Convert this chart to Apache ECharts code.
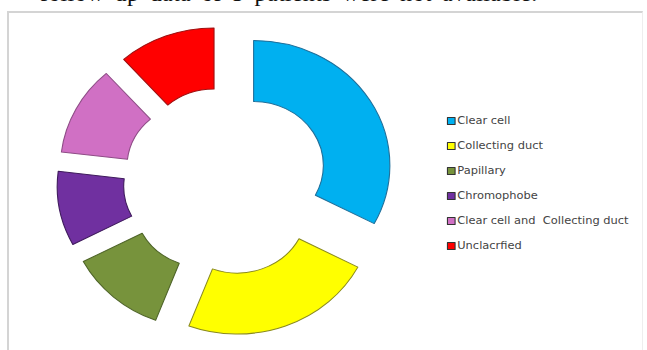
<!DOCTYPE html>
<html>
<head>
<meta charset="utf-8">
<title>RCC subtypes</title>
<script src="https://cdn.jsdelivr.net/npm/echarts@6/dist/echarts.min.js"></script>
<style>
  html, body { margin: 0; padding: 0; background: #fff; overflow: hidden; }
  #stage { position: relative; width: 647px; height: 350px; overflow: hidden; }
  #caption {
    position: absolute; left: 40px; top: 0; white-space: nowrap;
    font-family: "Liberation Serif", "DejaVu Serif", serif; font-size: 24px;
    line-height: 24px; margin-top: -19px;
    color: #111; word-spacing: 4px; letter-spacing: 0.3px;
  }
  #frame {
    position: absolute; left: 7px; top: 11px; width: 633px; height: 360px;
    border-top: 2px solid #d4d4d4; border-left: 2px solid #d4d4d4; border-right: 1px solid #eee;
  }
  /* the plot is drawn on a narrower canvas and widened, giving the oval ring */
  #chart {
    position: absolute; left: 0; top: 0; width: 594px; height: 350px;
    transform: scaleX(1.09); transform-origin: 0 0;
  }
</style>
</head>
<body>
<div id="stage">
  <div id="caption">follow up data of 5 patients were not available.</div>
  <div id="frame"></div>
  <div id="chart"></div>
</div>
<script>
// RCC histological subtypes (patient counts)
const categories = ['Clear cell', 'Collecting duct', 'Papillary', 'Chromophobe', 'Clear cell and  Collecting duct', 'Unclacrfied'];
const counts = [17, 12, 6, 5, 6, 6];
const fillColors = ['#00B0F0', '#FFFF00', '#77933C', '#7030A0', '#D070C4', '#FF0000'];
const edgeColors = ['#1F6F9A', '#8A8A1E', '#4E6428', '#3F1B5C', '#8E4C86', '#A01010'];

const chart = echarts.init(document.getElementById('chart'), null, { renderer: 'svg' });

const pieData = categories.map((name, i) => ({
  name: name,
  value: counts[i],
  selected: true,
  itemStyle: { color: fillColors[i], borderColor: edgeColors[i], borderWidth: 1 }
}));

chart.setOption({
  animation: false,
  legend: {
    orient: 'vertical',
    left: 405,
    top: 110,
    padding: 5,
    itemWidth: 7,
    itemHeight: 7,
    itemGap: 13,
    icon: 'rect',
    selectedMode: false,
    data: categories,
    itemStyle: { borderColor: '#333', borderWidth: 1 },
    textStyle: {
      fontFamily: 'DejaVu Sans, Verdana, sans-serif', fontSize: 10.5,
      lineHeight: 12, color: '#444', padding: [0, 0, 0, -3]
    }
  },
  series: [{
    type: 'pie',
    center: [207, 181],
    radius: [64, 125],
    startAngle: 90,
    clockwise: true,
    selectedMode: 'multiple',
    selectedOffset: 30,
    silent: true,
    label: { show: false },
    labelLine: { show: false },
    emphasis: { disabled: true },
    data: pieData
  }]
});
</script>
</body>
</html>
